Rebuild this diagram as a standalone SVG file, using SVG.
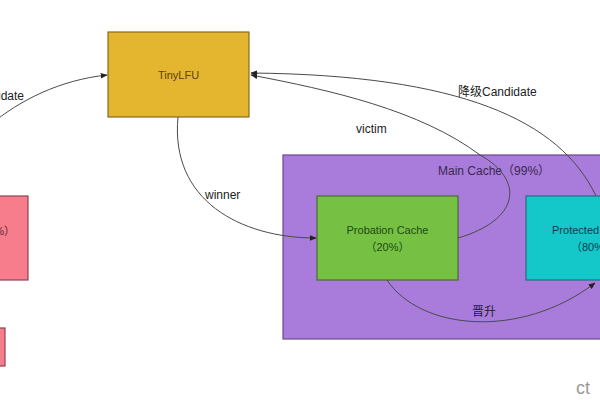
<svg xmlns="http://www.w3.org/2000/svg" width="600" height="400" viewBox="0 0 600 400">
<defs>
<style>
text{font-family:"Liberation Sans",Arial,"Noto Sans CJK SC",sans-serif;font-size:11px;fill:#222}
.box{stroke-width:1.2}
.edge{fill:none;stroke:#4a4a4a;stroke-width:1}
.lbl{font-size:12px}
</style>
<marker id="ah" viewBox="0 0 10 10" refX="9" refY="5" markerWidth="7" markerHeight="7" orient="auto" markerUnits="userSpaceOnUse">
<path d="M0,1 L10,5 L0,9 z" fill="#222"/>
</marker>
</defs>
<rect width="600" height="400" fill="#fff"/>
<g id="main-cache">
<rect class="box" x="283" y="155" width="330" height="184" fill="#A97BDA" stroke="#6a4a8a"/>
<text x="438" y="175" style="font-size:12px;fill:#3a2a50">Main Cache（99%）</text>
</g>
<g id="tinylfu">
<rect class="box" x="108" y="32" width="141" height="85" fill="#E4B52E" stroke="#8a6a20"/>
<text x="178.5" y="79" text-anchor="middle" style="fill:#5a4410">TinyLFU</text>
</g>
<g id="window-cache">
<rect class="box" x="-110" y="196" width="138" height="84" fill="#F77C8C" stroke="#8a4450"/>
<text x="15" y="235" text-anchor="end" style="fill:#5a2a30">Window Cache（1%）</text>
</g>
<g id="window-small">
<rect class="box" x="-40" y="328" width="45" height="38" fill="#F77C8C" stroke="#8a4450"/>
</g>
<g id="probation">
<rect class="box" x="317" y="196" width="141" height="84" fill="#76C043" stroke="#4a6a30"/>
<text x="387.5" y="234" text-anchor="middle" style="fill:#1f4a10">Probation Cache</text>
<text x="387.5" y="251" text-anchor="middle" style="fill:#1f4a10">（20%）</text>
</g>
<g id="protected">
<rect class="box" x="526" y="196" width="134" height="84" fill="#14C8CA" stroke="#2a6a80"/>
<text x="593" y="234" text-anchor="middle" style="fill:#0a3a4a">Protected Cache</text>
<text x="593" y="251" text-anchor="middle" style="fill:#0a3a4a">（80%）</text>
</g>
<g id="connectors">
<path class="edge" d="M-10,125 C20,100 60,80 107,75" marker-end="url(#ah)"/>
<path class="edge" d="M178,117 C170,200 240,238 316,238" marker-end="url(#ah)"/>
<path class="edge" d="M596,196 C560,120 460,75 251,73" marker-end="url(#ah)"/>
<path class="edge" d="M458,238 C520,220 525,180 480,155 C420,110 330,90 251,75" marker-end="url(#ah)"/>
<path class="edge" d="M387,280 C420,330 520,340 595,283" marker-end="url(#ah)"/>
</g>
<g id="labels">
<text class="lbl" x="24" y="100" text-anchor="end">Candidate</text>
<text class="lbl" x="205" y="199">winner</text>
<text class="lbl" x="356" y="133">victim</text>
<text class="lbl" x="458" y="96">降级Candidate</text>
<text class="lbl" x="472" y="316">晋升</text>
</g>
<text x="576" y="394" style="font-size:18px;fill:#999">ct</text>
</svg>
